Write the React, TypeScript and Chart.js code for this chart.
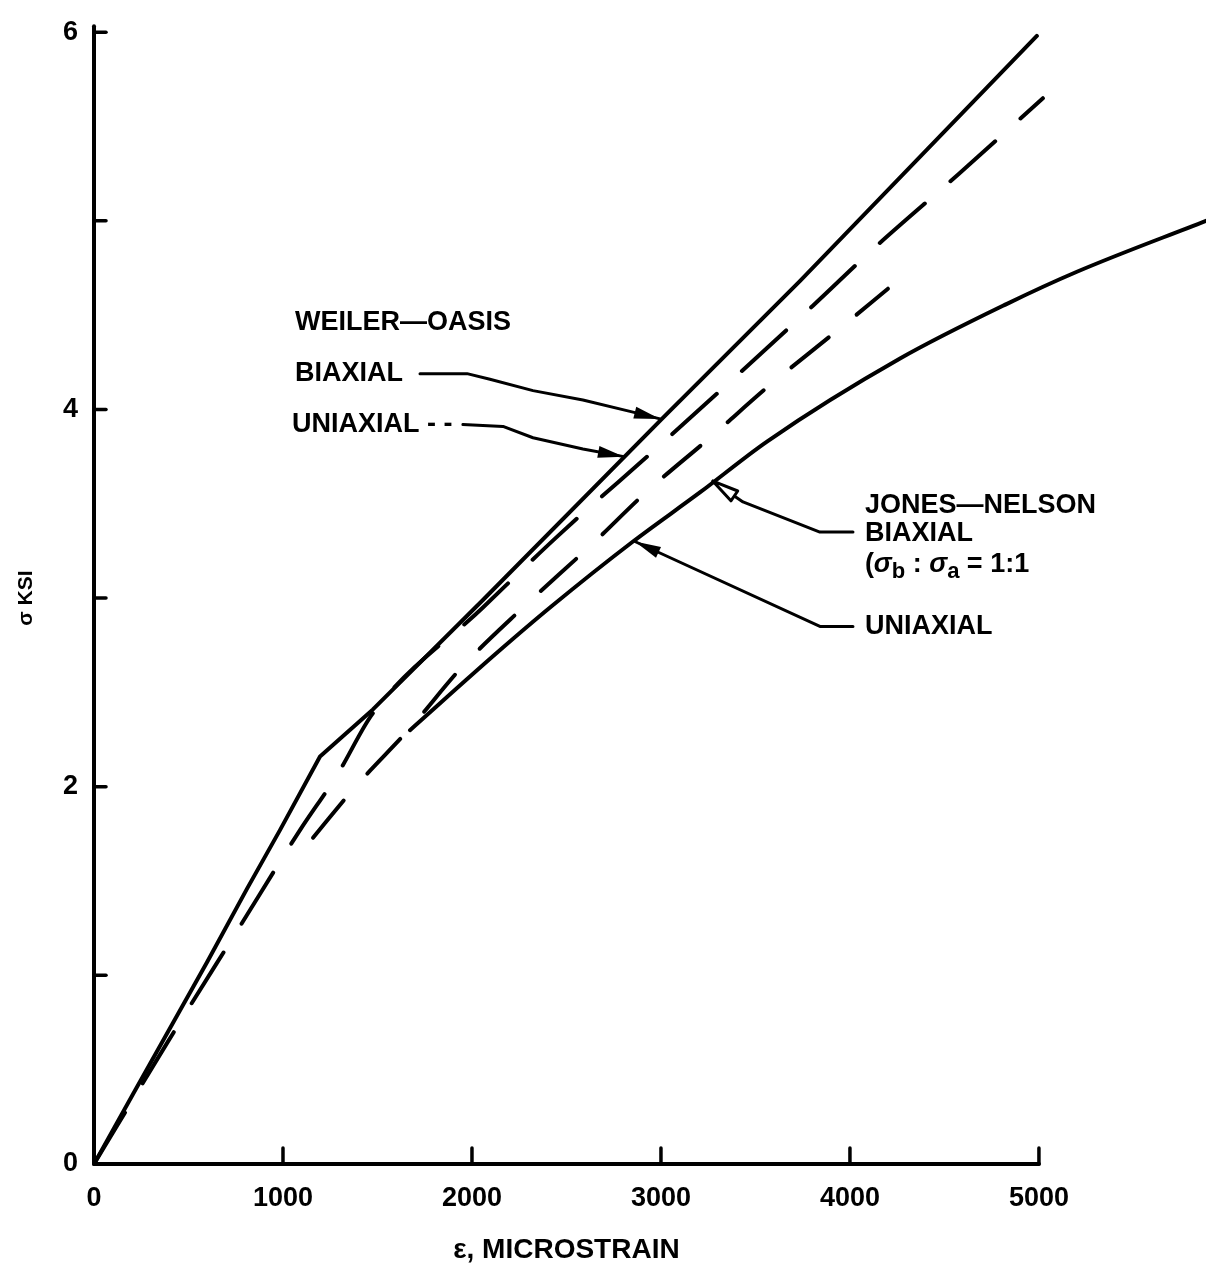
import React, { useEffect, useRef } from "react";
import { Chart, registerables } from "chart.js";

Chart.register(...registerables);

const FONT = "'Liberation Sans', Arial, Helvetica, sans-serif";

// Weiler–Oasis, biaxial (solid)
const woBiaxialX = [0, 206, 598, 810, 984, 1196, 1476, 2058, 3005, 3735, 4989];
const woBiaxialY = [0, 0.37, 1.07, 1.46, 1.77, 2.16, 2.41, 2.99, 3.95, 4.68, 5.98];

// Weiler–Oasis, uniaxial (dashed)
const woUniaxialX = [0, 392, 772, 1090, 1291, 1476, 2058, 2455, 3005, 3804, 4122, 4577, 5021];
const woUniaxialY = [0, 0.65, 1.26, 1.77, 2.07, 2.39, 2.95, 3.33, 3.82, 4.55, 4.85, 5.25, 5.65];

// Jones–Nelson, biaxial (solid)
const jnBiaxialX = [1672, 2132, 2413, 2852, 3206, 3561, 4265, 4831, 5201, 5884];
const jnBiaxialY = [2.3, 2.71, 2.95, 3.3, 3.56, 3.83, 4.27, 4.56, 4.73, 5.0];

// Jones–Nelson, uniaxial (dashed)
const jnUniaxialX = [1159, 1392, 1672, 1952, 2270, 2640, 2931, 3259, 3577, 3947, 4201];
const jnUniaxialY = [1.73, 2.01, 2.31, 2.64, 2.95, 3.29, 3.57, 3.85, 4.13, 4.43, 4.64];

// Axes
const X_MIN = 0;
const X_MAX = 5884;
const X_AXIS_END = 5000;
const Y_MIN = 0;
const Y_MAX = 6;
const xLabelValues = [0, 1000, 2000, 3000, 4000, 5000];
const xTickValues = [1000, 2000, 3000, 4000, 5000];
const yTickValues = [1, 2, 3, 4, 5, 6];
const yLabelValues = [0, 2, 4, 6];
const xTitle = "\u03b5, MICROSTRAIN";
const yTitle = "\u03c3 KSI";

// Annotation texts (data coordinates of left/middle anchor)
const labelTexts = ["WEILER\u2014OASIS", "BIAXIAL", "UNIAXIAL - -", "JONES\u2014NELSON", "BIAXIAL", "UNIAXIAL"];
const labelX = [1063, 1063, 1048, 4079, 4079, 4079];
const labelY = [4.46, 4.19, 3.92, 3.49, 3.34, 2.85];
const ratioLabelX = 4079;
const ratioLabelY = 3.18;

// Leader lines (data coordinates, last point = arrow tip)
const leaderWoBiaxialX = [1725, 1974, 2095, 2323, 2587, 2836, 2995];
const leaderWoBiaxialY = [4.19, 4.19, 4.16, 4.1, 4.05, 3.99, 3.95];
const leaderWoUniaxialX = [1952, 2164, 2323, 2587, 2804];
const leaderWoUniaxialY = [3.92, 3.91, 3.85, 3.79, 3.75];
const leaderJnBiaxialX = [4016, 3841, 3434, 3275];
const leaderJnBiaxialY = [3.35, 3.35, 3.51, 3.62];
const leaderJnUniaxialX = [4016, 3841, 2862];
const leaderJnUniaxialY = [2.85, 2.85, 3.3];

const toPoints = (xs: number[], ys: number[]) => xs.map((x, i) => ({ x, y: ys[i] }));

const overlayPlugin = {
  id: "overlay",
  afterDatasetsDraw(chart: any) {
    const { ctx, scales, chartArea } = chart;
    const xs = scales.x;
    const ys = scales.y;
    const px = (v: number) => xs.getPixelForValue(v);
    const py = (v: number) => ys.getPixelForValue(v);
    ctx.save();
    ctx.strokeStyle = "#000";
    ctx.fillStyle = "#000";
    ctx.lineCap = "round";
    ctx.lineJoin = "round";

    // axis lines
    ctx.lineWidth = 4;
    ctx.beginPath();
    ctx.moveTo(px(X_MIN), py(0));
    ctx.lineTo(px(X_AXIS_END), py(0));
    ctx.stroke();
    ctx.beginPath();
    ctx.moveTo(px(0), py(Y_MIN));
    ctx.lineTo(px(0), py(Y_MAX) - 6);
    ctx.stroke();

    // inward ticks
    ctx.lineWidth = 3.5;
    xTickValues.forEach((v) => {
      ctx.beginPath();
      ctx.moveTo(px(v), py(0));
      ctx.lineTo(px(v), py(0) - 16);
      ctx.stroke();
    });
    yTickValues.forEach((v) => {
      ctx.beginPath();
      ctx.moveTo(px(0), py(v));
      ctx.lineTo(px(0) + 12, py(v));
      ctx.stroke();
    });

    // axis titles
    ctx.textBaseline = "middle";
    ctx.textAlign = "center";
    ctx.font = `bold 28px ${FONT}`;
    ctx.fillText(xTitle, (px(X_MIN) + px(X_AXIS_END)) / 2, chartArea.bottom + 86);
    ctx.save();
    ctx.translate(26, (py(Y_MIN) + py(Y_MAX)) / 2);
    ctx.rotate(-Math.PI / 2);
    ctx.font = `bold 21px ${FONT}`;
    ctx.fillText(yTitle, 0, 0);
    ctx.restore();

    // annotation labels
    ctx.textAlign = "left";
    ctx.font = `bold 27px ${FONT}`;
    labelTexts.forEach((t, i) => {
      ctx.fillText(t, px(labelX[i]), py(labelY[i]));
    });

    // ratio label: (σb : σa = 1:1
    let cx = px(ratioLabelX);
    const cy = py(ratioLabelY);
    const parts: [string, string, number][] = [
      ["(", `bold 27px ${FONT}`, 0],
      ["\u03c3", `italic bold 27px ${FONT}`, 0],
      ["b", `bold 22px ${FONT}`, 8],
      [" : ", `bold 27px ${FONT}`, 0],
      ["\u03c3", `italic bold 27px ${FONT}`, 0],
      ["a", `bold 22px ${FONT}`, 8],
      [" = 1:1", `bold 27px ${FONT}`, 0],
    ];
    parts.forEach(([t, f, dy]) => {
      ctx.font = f;
      ctx.fillText(t, cx, cy + dy);
      cx += ctx.measureText(t).width;
    });

    // leader lines with arrowheads
    const drawLeader = (lx: number[], ly: number[], hollow: boolean) => {
      ctx.lineWidth = 3;
      ctx.beginPath();
      lx.forEach((v, i) => {
        const X = px(v);
        const Y = py(ly[i]);
        if (i === 0) ctx.moveTo(X, Y);
        else ctx.lineTo(X, Y);
      });
      ctx.stroke();
      const n = lx.length;
      const tx = px(lx[n - 1]);
      const ty = py(ly[n - 1]);
      const sx = px(lx[n - 2]);
      const sy = py(ly[n - 2]);
      const ang = Math.atan2(ty - sy, tx - sx);
      const len = 26;
      const half = 6;
      const bx = tx - Math.cos(ang) * len;
      const by = ty - Math.sin(ang) * len;
      ctx.beginPath();
      ctx.moveTo(tx, ty);
      ctx.lineTo(bx + Math.sin(ang) * half, by - Math.cos(ang) * half);
      ctx.lineTo(bx - Math.sin(ang) * half, by + Math.cos(ang) * half);
      ctx.closePath();
      if (hollow) {
        ctx.fillStyle = "#fff";
        ctx.fill();
        ctx.lineWidth = 3;
        ctx.stroke();
        ctx.fillStyle = "#000";
      } else {
        ctx.fill();
      }
    };
    drawLeader(leaderWoBiaxialX, leaderWoBiaxialY, false);
    drawLeader(leaderWoUniaxialX, leaderWoUniaxialY, false);
    drawLeader(leaderJnBiaxialX, leaderJnBiaxialY, true);
    drawLeader(leaderJnUniaxialX, leaderJnUniaxialY, false);

    ctx.restore();
  },
};

export default function App() {
  const canvasRef = useRef<HTMLCanvasElement | null>(null);

  useEffect(() => {
    const canvas = canvasRef.current;
    if (!canvas) return;
    const common = {
      borderColor: "#000",
      backgroundColor: "#000",
      pointRadius: 0,
      fill: false,
      cubicInterpolationMode: "monotone" as const,
      borderCapStyle: "round" as const,
      borderJoinStyle: "round" as const,
    };
    const chart = new Chart(canvas, {
      type: "line",
      data: {
        datasets: [
          {
            ...common,
            label: "Weiler-Oasis biaxial",
            data: toPoints(woBiaxialX, woBiaxialY),
            borderWidth: 4,
            cubicInterpolationMode: "default" as const,
            tension: 0,
          },
          { ...common, label: "Weiler-Oasis uniaxial", data: toPoints(woUniaxialX, woUniaxialY), borderWidth: 4, borderDash: [60, 34] },
          { ...common, label: "Jones-Nelson biaxial", data: toPoints(jnBiaxialX, jnBiaxialY), borderWidth: 4 },
          { ...common, label: "Jones-Nelson uniaxial", data: toPoints(jnUniaxialX, jnUniaxialY), borderWidth: 4, borderDash: [48, 36] },
        ],
      },
      options: {
        responsive: false,
        animation: false,
        devicePixelRatio: 1,
        layout: { padding: { top: 24, left: 0, right: 0, bottom: 0 } },
        plugins: { legend: { display: false }, tooltip: { enabled: false } },
        scales: {
          x: {
            type: "linear",
            min: X_MIN,
            max: X_MAX,
            grid: { display: false, drawTicks: false },
            border: { display: false },
            ticks: {
              autoSkip: false,
              maxRotation: 0,
              minRotation: 0,
              padding: 18,
              color: "#000",
              font: { family: FONT, size: 27, weight: "bold" },
              callback: (v: any) => String(v),
            },
            afterBuildTicks: (s: any) => {
              s.ticks = xLabelValues.map((value) => ({ value }));
            },
            afterFit: (s: any) => {
              s.height = 106;
            },
          },
          y: {
            type: "linear",
            min: Y_MIN,
            max: Y_MAX,
            grid: { display: false, drawTicks: false },
            border: { display: false },
            ticks: {
              autoSkip: false,
              padding: 16,
              color: "#000",
              font: { family: FONT, size: 27, weight: "bold" },
              callback: (v: any) => String(v),
            },
            afterBuildTicks: (s: any) => {
              s.ticks = yLabelValues.map((value) => ({ value }));
            },
            afterFit: (s: any) => {
              s.width = 94;
            },
          },
        },
      },
      plugins: [overlayPlugin],
    });
    return () => chart.destroy();
  }, []);

  return (
    <div style={{ position: "absolute", left: 0, top: 0, width: 1206, height: 1270, background: "#fff" }}>
      <canvas ref={canvasRef} width={1206} height={1270} style={{ display: "block" }} />
    </div>
  );
}
